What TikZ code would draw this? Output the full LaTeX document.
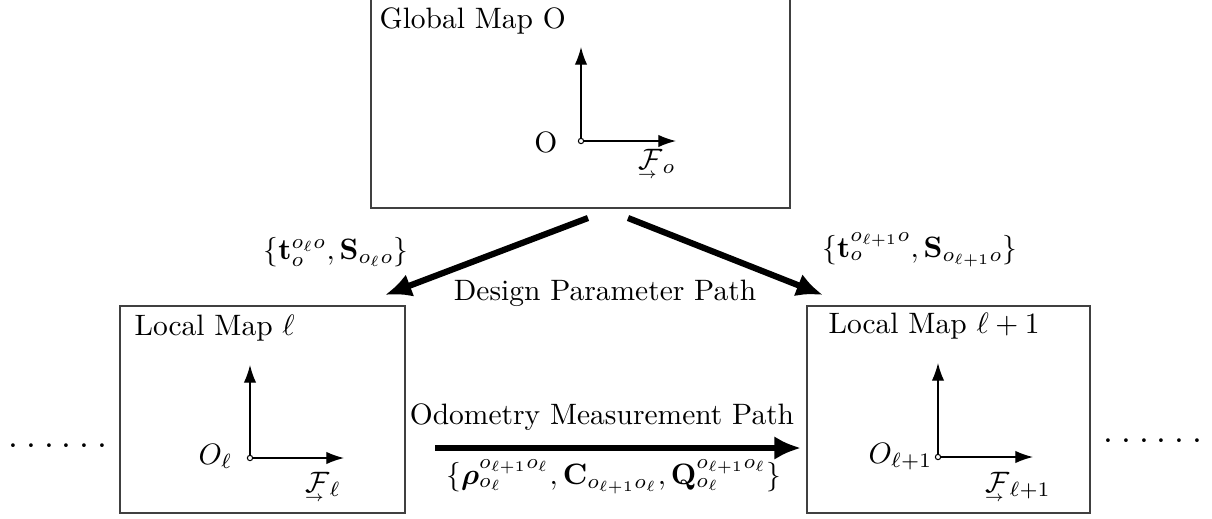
\documentclass[tikz,border=0pt]{standalone}
\usepackage{amsmath,bm}
\usetikzlibrary{arrows.meta}
\newcommand\dt{\mathord{\cdot}}
\newcommand\sixdots{{\fontsize{13}{15}\selectfont$\dt\kern2.7pt\dt\kern2.7pt\dt\kern2.7pt\dt\kern2.7pt\dt\kern2.7pt\dt$}}
\newcommand\frameF[1]{\mathcal{F}\llap{\raisebox{-3.2pt}[0pt][0pt]{$\scriptscriptstyle\rightarrow$}\kern1.8pt}_{#1}}
\tikzset{
  mapbox/.style={draw=black!75, line width=0.5pt, inner sep=0pt},
  axisarrow/.style={line width=0.45pt, -{Latex[length=6pt,width=4.2pt]}},
  bigarrow/.style={line width=2.1pt, -{Latex[length=9pt,width=8pt]}},
  origin/.style={circle, draw, line width=0.35pt, inner sep=0pt, minimum size=1.8pt, fill=white},
  lbl/.style={inner sep=0pt}
}
\begin{document}
\begin{tikzpicture}[x=0.339pt,y=-0.339pt]
\useasboundingbox (0,0) rectangle (1212,518);
% boxes
\node[mapbox, minimum width=142.04pt, minimum height=71.19pt] (gbox) at (580.5,103) {};
\node[mapbox, minimum width=96.6pt, minimum height=70.17pt] (lbox) at (262.5,409.5) {};
\node[mapbox, minimum width=95.94pt, minimum height=70.17pt] (rbox) at (948.5,409.5) {};
% titles
\node[lbl, anchor=base west] (gtitle) at (379,28) {Global Map O};
\node[lbl, anchor=base west] (ltitle) at (134,335) {Local Map $\ell$};
\node[lbl, anchor=base west] (rtitle) at (828,333) {Local Map $\ell+1$};
% global frame
\coordinate (go) at (581,141);
\coordinate (gy) at (581,47);
\coordinate (gx) at (676,141);
\draw[axisarrow] (go) -- (gy);
\draw[axisarrow] (go) -- (gx);
\node[origin] (goc) at (go) {};
\node[lbl, anchor=base east] (gO) at (558,152) {O};
\node[lbl, anchor=base west] (gF) at (638,169) {$\frameF{o}$};
% local frame l
\coordinate (lo) at (250,458);
\coordinate (ly) at (250,365);
\coordinate (lx) at (344,458);
\draw[axisarrow] (lo) -- (ly);
\draw[axisarrow] (lo) -- (lx);
\node[origin] (loc) at (lo) {};
\node[lbl, anchor=base east] (lO) at (233,464) {$O_\ell$};
\node[lbl, anchor=base west] (lF) at (305,492) {$\frameF{\ell}$};
% local frame l+1
\coordinate (ro) at (938,457);
\coordinate (ry) at (938,363);
\coordinate (rx) at (1033,457);
\draw[axisarrow] (ro) -- (ry);
\draw[axisarrow] (ro) -- (rx);
\node[origin] (roc) at (ro) {};
\node[lbl, anchor=base east] (rO) at (933,463) {$O_{\ell+1}$};
\node[lbl, anchor=base west] (rF) at (985,492) {$\frameF{\ell+1}$};
% design parameter path
\coordinate (dls) at (588,218);
\coordinate (dle) at (385,295);
\coordinate (drs) at (628,218);
\coordinate (dre) at (823,295);
\draw[bigarrow] (dls) -- (dle);
\draw[bigarrow] (drs) -- (dre);
\node (tl) at (336,252) {$\{\mathbf{t}_o^{o_\ell o}, \mathbf{S}_{o_\ell o}\}$};
\node (tr) at (920,250) {$\{\mathbf{t}_o^{o_{\ell+1} o}, \mathbf{S}_{o_{\ell+1} o}\}$};
\node (dp) at (605,293) {Design Parameter Path};
% odometry path
\coordinate (os) at (435,448);
\coordinate (oe) at (801,448);
\draw[bigarrow] (os) -- (oe);
\node (om) at (602,417) {Odometry Measurement Path};
\node (ol) at (614,477) {$\{\boldsymbol{\rho}_{o_\ell}^{o_{\ell+1}o_\ell}, \mathbf{C}_{o_{\ell+1}o_\ell}, \mathbf{Q}_{o_\ell}^{o_{\ell+1}o_\ell}\}$};
% dots
\node (ldots) at (58,447) {\sixdots};
\node (rdots) at (1153,442) {\sixdots};
\end{tikzpicture}
\end{document}
